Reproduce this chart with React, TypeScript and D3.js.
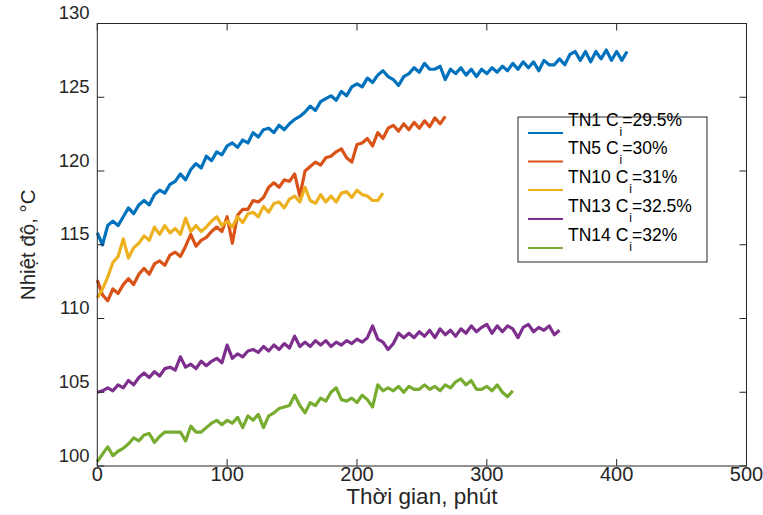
import React from "react";
import * as d3 from "d3";

// Sampling interval of the logged temperatures, minutes
const STEP = 4;

// Temperature readings (°C), one every STEP minutes starting at t = 0
const tn1 = [
  115.8, 115.0, 116.3, 116.6, 116.3, 116.9, 117.5, 117.1, 117.7, 118.0,
  117.7, 118.4, 118.7, 118.5, 119.1, 119.3, 119.8, 119.4, 120.1, 120.5,
  120.2, 121.0, 120.7, 121.3, 121.1, 121.7, 121.9, 121.6, 122.1, 121.9,
  122.6, 122.3, 122.8, 122.9, 122.6, 123.1, 122.8, 123.2, 123.5, 123.7,
  124.0, 124.4, 124.1, 124.7, 124.9, 125.1, 124.8, 125.4, 125.1, 125.7,
  125.9, 125.7, 126.3, 126.0, 126.5, 126.8, 126.4, 126.2, 125.8, 126.4,
  126.6, 127.0, 126.7, 127.3, 126.9, 126.9, 127.1, 126.2, 126.9, 126.6,
  127.0, 126.5, 126.9, 126.4, 126.9, 126.6, 127.0, 126.7, 127.1, 126.8,
  127.3, 126.9, 127.4, 127.0, 127.4, 126.8, 127.5, 127.2, 127.2, 127.6,
  127.2, 127.9, 128.1, 127.5, 128.1, 127.4, 128.1, 127.6, 128.2, 127.5,
  128.1, 127.5, 128.1,
];
const tn5 = [
  112.6, 111.6, 111.2, 112.0, 111.7, 112.3, 112.7, 112.3, 113.0, 113.4,
  113.0, 113.7, 113.9, 113.6, 114.3, 114.5, 114.2, 114.9, 115.7, 114.9,
  115.3, 115.5, 115.9, 116.2, 115.9, 116.9, 115.1, 117.0, 117.4, 117.4,
  118.0, 117.9, 118.2, 118.9, 119.2, 118.9, 119.4, 119.3, 119.8, 118.3,
  120.0, 120.3, 120.6, 120.4, 120.9, 121.0, 121.3, 121.5, 120.9, 120.6,
  121.8, 121.9, 122.2, 121.7, 122.6, 122.2, 122.9, 123.1, 122.7, 123.2,
  122.8, 123.3, 122.9, 123.4, 123.0, 123.6, 123.2, 123.7,
];
const tn10 = [
  111.4, 112.0, 112.8, 113.8, 114.2, 115.4, 114.1, 114.8, 115.1, 115.6,
  115.3, 116.2, 115.7, 116.3, 115.8, 116.1, 115.7, 116.8, 115.9, 116.3,
  115.9, 116.2, 116.6, 116.9, 116.3, 116.6, 116.2, 116.9, 116.5, 117.1,
  117.2, 116.9, 117.6, 117.2, 117.8, 117.9, 117.5, 118.1, 118.3, 117.9,
  118.9, 118.0, 117.8, 118.4, 117.9, 118.3, 117.9, 118.5, 118.6, 118.2,
  118.7, 118.4, 118.3, 118.0, 118.0, 118.5,
];
const tn13 = [
  105.0, 105.1, 105.3, 105.1, 105.5, 105.3, 105.8, 105.5, 106.0, 106.3,
  106.0, 106.4, 106.1, 106.6, 106.7, 106.5, 107.4, 106.7, 106.9, 106.6,
  107.1, 106.8, 107.1, 107.3, 107.0, 108.2, 107.3, 107.6, 107.4, 107.8,
  107.9, 107.7, 108.1, 107.8, 108.2, 107.9, 108.3, 108.0, 108.8, 108.1,
  108.4, 108.1, 108.5, 108.2, 108.5, 108.1, 108.4, 108.2, 108.5, 108.3,
  108.6, 108.4, 108.7, 109.5, 108.6, 108.4, 107.9, 108.3, 109.0, 108.7,
  109.0, 108.7, 109.1, 108.8, 109.2, 108.7, 109.3, 108.9, 109.2, 108.8,
  109.3, 109.0, 109.5, 109.1, 109.4, 109.6, 109.0, 109.5, 109.1, 109.5,
  109.3, 108.7, 109.4, 109.6, 109.1, 109.4, 109.2, 109.5, 108.9, 109.2,
];
const tn14 = [
  100.3, 100.8, 101.3, 100.7, 101.0, 101.2, 101.5, 101.9, 101.7, 102.1,
  102.2, 101.6, 102.0, 102.3, 102.3, 102.3, 102.3, 101.7, 102.7, 102.3,
  102.3, 102.6, 102.9, 103.1, 102.8, 103.1, 102.9, 103.3, 102.6, 103.4,
  103.1, 103.5, 102.6, 103.4, 103.6, 103.9, 104.0, 104.1, 104.8, 104.1,
  103.6, 104.3, 104.1, 104.6, 104.4, 105.0, 105.3, 104.5, 104.4, 104.6,
  104.3, 104.8, 104.5, 104.0, 105.5, 105.1, 105.3, 105.1, 105.4, 105.0,
  105.4, 105.2, 105.2, 105.5, 105.2, 105.4, 105.1, 105.5, 105.3, 105.7,
  105.9, 105.5, 105.8, 105.2, 105.2, 105.4, 105.1, 105.5, 105.0, 104.7,
  105.1,
];

const seriesNames = ["TN1", "TN5", "TN10", "TN13", "TN14"];
const seriesCi = ["29.5%", "30%", "31%", "32.5%", "32%"];
const seriesValues = [tn1, tn5, tn10, tn13, tn14];
const seriesColors = ["#0072BD", "#D95319", "#EDB120", "#7E2F8E", "#77AC30"];

const xTicks = [0, 100, 200, 300, 400, 500];
const yTicks = [100, 105, 110, 115, 120, 125, 130];

const W = 763;
const H = 515;
const left = 97.3;
const right = 746.5;
const top = 23.5;
const bottom = 466;
const axisColor = "#262626";
const font = "'Liberation Sans', Arial, Helvetica, sans-serif";

export default function App() {
  const x = d3.scaleLinear().domain([0, 500]).range([left, right]);
  const y = d3.scaleLinear().domain([100, 130]).range([bottom, top]);

  const line = d3
    .line<number>()
    .x((_, i) => x(i * STEP))
    .y((v) => y(v));

  const tickLen = 7;

  // legend geometry
  const lgX = 518;
  const lgY = 117;
  const lgW = 189;
  const lgH = 145;
  const lgRowY = [133, 161.5, 190, 219, 248];

  return (
    <svg
      width={W}
      height={H}
      style={{ position: "absolute", left: 0, top: 0, background: "#fff" }}
      fontFamily={font}
    >
      <rect x={0} y={0} width={W} height={H} fill="#fff" />

      {/* data lines */}
      <g fill="none" strokeWidth={3.2} strokeLinejoin="round">
        {seriesValues.map((vals, k) => (
          <path key={k} d={line(vals) || ""} stroke={seriesColors[k]} />
        ))}
      </g>

      {/* axes box */}
      <rect
        x={left}
        y={top}
        width={right - left}
        height={bottom - top}
        fill="none"
        stroke={axisColor}
        strokeWidth={1}
      />

      {/* ticks on all four sides, pointing inward */}
      <g stroke={axisColor} strokeWidth={1}>
        {xTicks.map((t) => (
          <g key={t}>
            <line x1={x(t)} x2={x(t)} y1={bottom} y2={bottom - tickLen} />
            <line x1={x(t)} x2={x(t)} y1={top} y2={top + tickLen} />
          </g>
        ))}
        {yTicks.map((t) => (
          <g key={t}>
            <line x1={left} x2={left + tickLen} y1={y(t)} y2={y(t)} />
            <line x1={right} x2={right - tickLen} y1={y(t)} y2={y(t)} />
          </g>
        ))}
      </g>

      {/* tick labels */}
      <g fill={axisColor} fontSize={20}>
        {xTicks.map((t) => (
          <text key={t} x={x(t)} y={bottom + 15} textAnchor="middle">
            {t}
          </text>
        ))}
      </g>
      <g fill={axisColor} fontSize={18.5}>
        {yTicks.map((t) => (
          <text key={t} x={89.5} y={y(t) - 4.5} textAnchor="end">
            {t}
          </text>
        ))}
      </g>

      {/* axis titles */}
      <text
        x={(left + right) / 2}
        y={504}
        textAnchor="middle"
        fontSize={22.5}
        fill={axisColor}
      >
        Thời gian, phút
      </text>
      <text
        transform={`translate(35, ${(top + bottom) / 2}) rotate(-90)`}
        textAnchor="middle"
        fontSize={20.5}
        fill={axisColor}
      >
        Nhiệt độ, °C
      </text>

      {/* legend */}
      <rect
        x={lgX}
        y={lgY}
        width={lgW}
        height={lgH}
        fill="#fff"
        stroke={axisColor}
        strokeWidth={1}
      />
      {seriesNames.map((name, k) => (
        <g key={name}>
          <line
            x1={528}
            x2={563}
            y1={lgRowY[k]}
            y2={lgRowY[k]}
            stroke={seriesColors[k]}
            strokeWidth={2}
          />
          <text x={568} y={lgRowY[k] - 7.5} fontSize={17.5} fill="#000">
            <tspan>{`${name} C`}</tspan>
            <tspan dx={1} dy={10} fontSize={12}>
              i
            </tspan>
            <tspan dy={-10}>{`=${seriesCi[k]}`}</tspan>
          </text>
        </g>
      ))}
    </svg>
  );
}
